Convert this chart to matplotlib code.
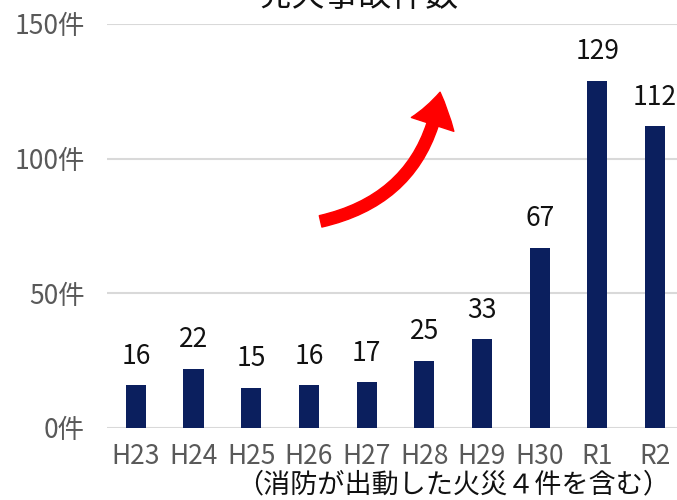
import matplotlib
matplotlib.use('Agg')
from matplotlib import pyplot as plt
from matplotlib.patches import FancyArrowPatch
import numpy as np

plt.rcParams['font.family'] = ['Noto Sans CJK JP', 'DejaVu Sans']

categories = ['H23', 'H24', 'H25', 'H26', 'H27', 'H28', 'H29', 'H30', 'R1', 'R2']
counts = [16, 22, 15, 16, 17, 25, 33, 67, 129, 112]
yticks = [0, 50, 100, 150]
title = '発火事故件数'
note = '（消防が出動した火災４件を含む）'

fig = plt.figure(figsize=(6.77, 5.0), dpi=100)
ax = fig.add_axes([107 / 677, 72 / 500, 570 / 677, 404 / 500])

x = np.arange(len(categories))
ax.bar(x, counts, width=0.35, color='#0b1f5e', zorder=3)
for xi, v in zip(x, counts):
    ax.annotate(str(v), (xi, v), xytext=(0, 11), textcoords='offset points',
                ha='center', va='bottom', fontsize=19, color='#111111')

ax.set_xlim(-0.5, 9.38)
ax.set_ylim(0, 150)
ax.set_yticks(yticks)
ax.set_yticklabels([f'{t}件' for t in yticks], fontsize=19, color='#595959')
ax.set_xticks(x)
ax.set_xticklabels(categories, fontsize=19, color='#595959')
ax.tick_params(length=0)
ax.tick_params(axis='y', pad=16)
ax.tick_params(axis='x', pad=11)
ax.grid(axis='y', color='#d9d9d9', linewidth=1.5, zorder=0)
for s in ax.spines.values():
    s.set_visible(False)

# curved red arrow
arrow = FancyArrowPatch((0.37, 0.51), (0.585, 0.838), transform=ax.transAxes,
                        connectionstyle='arc3,rad=0.35',
                        arrowstyle='simple,head_width=2.3,head_length=1.7,tail_width=0.6',
                        mutation_scale=14, color='#ff0000', zorder=4)
ax.add_patch(arrow)

fig.text(0.53, 0.988, title, ha='center', va='baseline', fontsize=24, color='#111111')
fig.text(0.67, 0.03, note, ha='center', va='center', fontsize=19.5, color='#111111')

fig.savefig('out.png', dpi=100)
